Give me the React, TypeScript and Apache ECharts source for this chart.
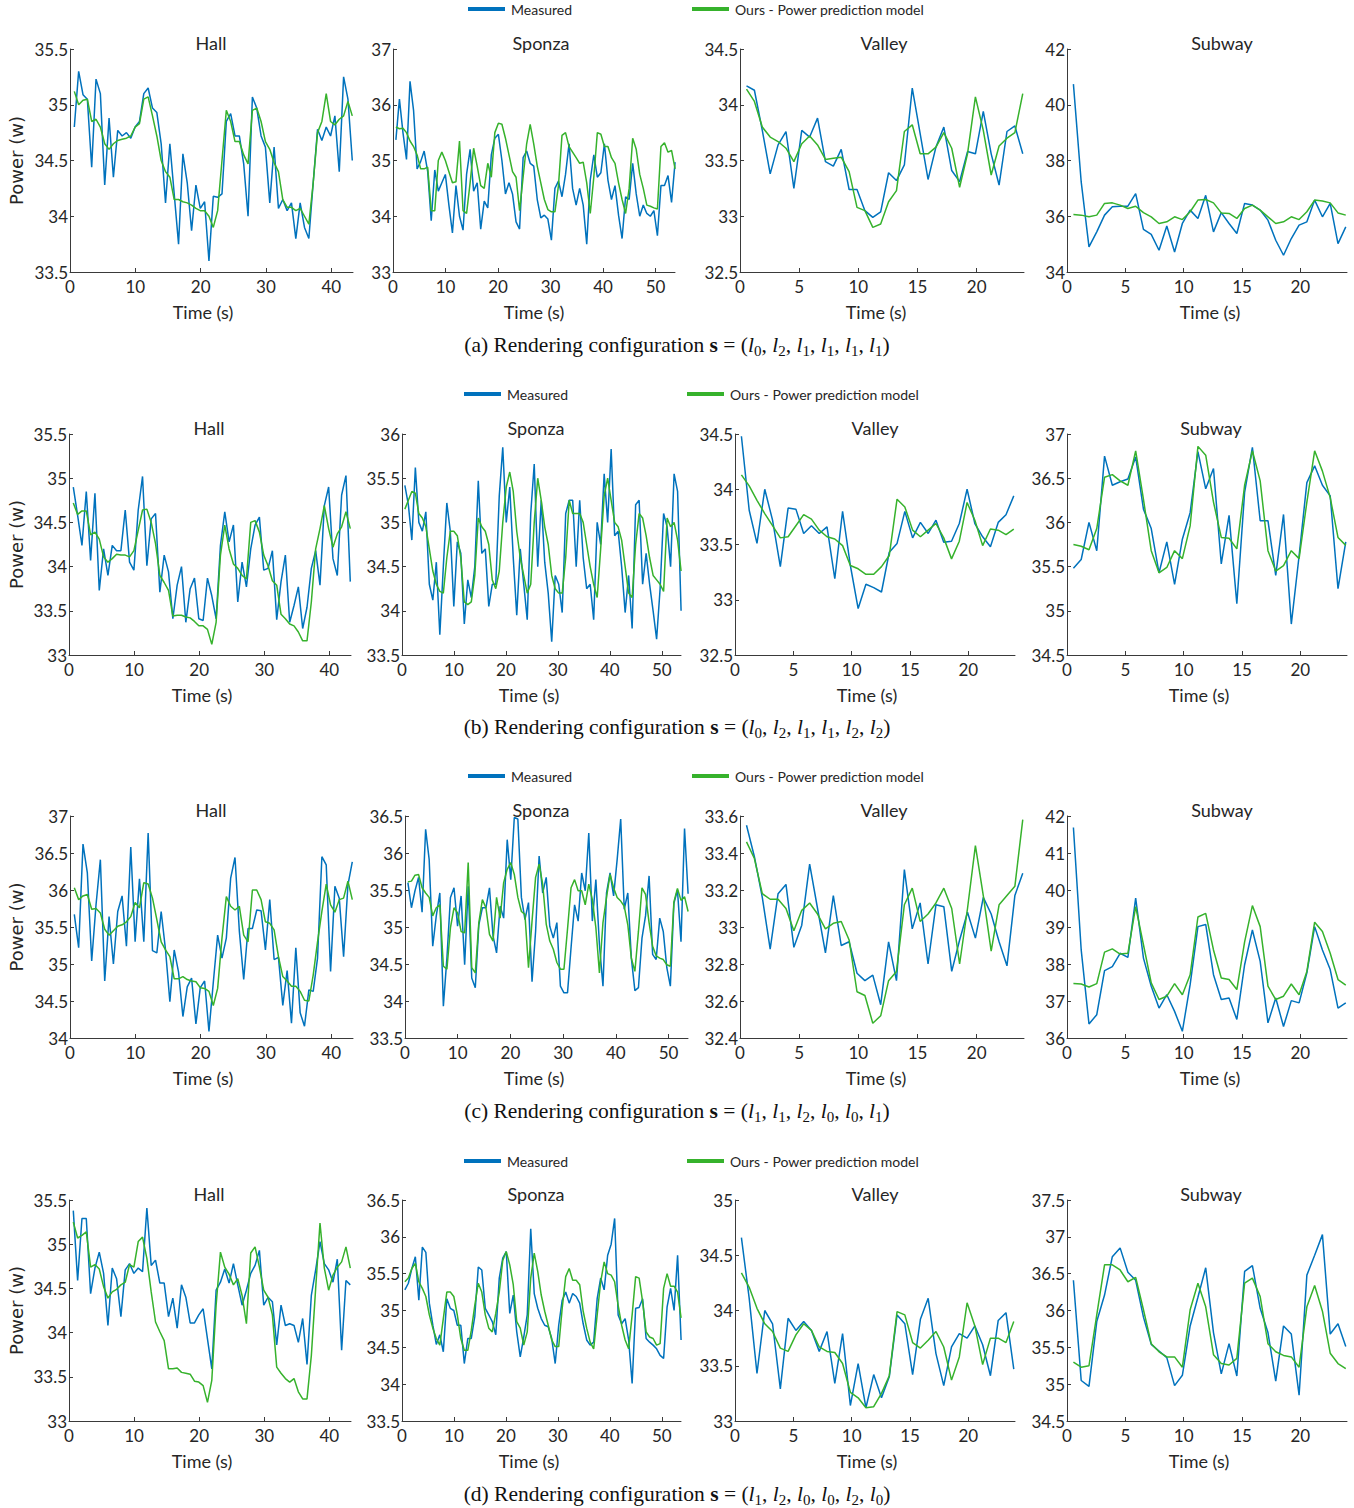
import React, { useEffect, useRef } from 'react';
import * as echarts from 'echarts';

// ---------- DATA ----------
const SCENES = ['Hall', 'Sponza', 'Valley', 'Subway'];
const ROW_LABELS = ['a', 'b', 'c', 'd'];
const CONFIGS = [
  [0, 2, 1, 1, 1, 1],
  [0, 2, 1, 1, 2, 2],
  [1, 1, 2, 0, 0, 1],
  [1, 2, 0, 0, 2, 0],
];
const SERIES_NAMES = ['Measured', 'Ours - Power prediction model'];
const SAMPLE_DT = [0.665, 0.673, 0.667, 0.667]; // seconds between samples, per scene
const FIRST_T = [0.66, 0.55, 0.55, 0.55];
const X_MAX = [43.33, 53.7, 24, 24];
const X_STEP = [10, 10, 5, 5];
const Y_MIN = [[33.5, 33, 32.5, 34], [33, 33.5, 32.5, 34.5], [34, 33.5, 32.4, 36], [33, 33.5, 33, 34.5]];
const Y_MAX = [[35.5, 37, 34.5, 42], [35.5, 36, 34.5, 37], [37, 36.5, 33.6, 42], [35.5, 36.5, 35, 37.5]];
const Y_STEP = [[0.5, 1, 0.5, 2], [0.5, 0.5, 0.5, 0.5], [0.5, 0.5, 0.2, 1], [0.5, 0.5, 0.5, 0.5]];

// (a)
const MEAS_A_HALL = [34.80,35.30,35.09,35.05,34.44,35.23,35.10,34.28,34.88,34.35,34.77,34.72,34.75,34.70,34.80,34.85,35.10,35.15,34.97,34.93,34.65,34.12,34.65,34.20,33.75,34.56,34.30,33.87,34.28,34.07,34.13,33.60,34.18,34.17,34.20,34.85,34.92,34.72,34.72,34.47,34.00,35.07,34.97,34.72,34.62,34.12,34.62,34.07,34.15,34.05,34.12,33.80,34.12,33.90,33.80,34.30,34.78,34.68,34.80,34.72,34.90,34.40,35.25,35.05,34.50];
const PRED_A_HALL = [35.12,35.00,35.04,35.05,34.85,34.87,34.80,34.65,34.60,34.65,34.68,34.69,34.70,34.72,34.80,34.83,35.05,35.07,34.90,34.72,34.50,34.40,34.35,34.15,34.15,34.13,34.12,34.10,34.07,34.05,34.05,34.00,33.90,34.05,34.50,34.95,34.85,34.67,34.67,34.55,34.47,34.95,34.97,34.85,34.67,34.60,34.48,34.40,34.15,34.08,34.08,34.05,34.07,34.00,33.93,34.30,34.75,34.85,35.10,34.85,34.82,34.87,34.90,35.03,34.90];
const MEAS_A_SPONZA = [35.37,36.10,35.50,35.02,36.42,35.90,34.85,34.98,35.17,34.80,33.92,34.83,34.45,34.60,34.75,34.20,33.70,34.55,34.00,33.75,34.75,35.20,34.45,34.60,33.77,34.27,34.15,35.10,35.40,35.47,35.00,34.40,34.60,34.40,33.90,33.77,35.05,35.17,34.95,34.90,34.30,33.97,34.02,33.95,33.57,34.50,34.63,34.35,34.75,35.30,34.50,34.20,34.50,34.20,33.50,34.65,35.10,34.70,34.78,35.30,34.65,34.30,34.55,34.02,33.60,34.35,34.30,34.95,34.40,34.00,34.20,34.05,34.00,34.10,33.65,34.55,34.55,34.73,34.25,34.97];
const PRED_A_SPONZA = [35.60,35.57,35.58,35.50,35.35,35.25,35.10,34.85,34.85,34.88,34.10,34.10,35.00,35.15,35.00,34.80,34.60,34.62,35.35,34.10,34.05,34.60,35.22,34.90,34.55,34.50,34.95,34.70,35.50,35.67,35.65,35.40,35.10,34.80,34.70,34.10,34.70,35.30,35.65,35.30,34.90,34.60,34.30,34.12,34.08,34.08,34.55,35.45,35.50,35.25,35.15,35.05,34.95,34.97,34.60,34.05,34.70,35.50,35.47,35.25,35.25,35.05,34.95,34.60,34.30,34.05,34.50,35.40,35.20,34.75,34.50,34.20,34.18,34.15,34.13,35.25,35.32,35.15,35.18,34.85];
const MEAS_A_VALLEY = [34.17,34.13,33.77,33.38,33.64,33.76,33.25,33.77,33.71,33.88,33.49,33.45,33.60,33.24,33.24,33.05,32.99,33.04,33.39,33.32,33.46,34.15,33.74,33.33,33.62,33.80,33.41,33.31,33.58,33.56,33.94,33.56,33.28,33.76,33.81,33.56];
const PRED_A_VALLEY = [34.14,34.03,33.80,33.71,33.67,33.61,33.49,33.65,33.72,33.64,33.51,33.52,33.53,33.40,33.08,33.05,32.90,32.93,33.13,33.23,33.76,33.82,33.56,33.56,33.62,33.75,33.61,33.26,33.56,34.07,33.77,33.37,33.63,33.70,33.75,34.10];
const MEAS_A_SUBWAY = [40.74,37.23,34.90,35.44,36.04,36.34,36.36,36.36,36.81,35.53,35.35,34.78,35.65,34.72,35.74,36.22,35.92,36.75,35.44,36.13,35.74,35.38,36.46,36.40,36.22,35.86,35.14,34.60,35.20,35.68,35.80,36.58,35.98,36.46,35.02,35.62];
const PRED_A_SUBWAY = [36.06,36.04,35.98,36.04,36.46,36.48,36.40,36.28,36.36,36.13,35.98,35.74,35.80,35.98,35.88,36.16,36.58,36.60,36.48,36.12,36.10,35.92,36.28,36.40,36.22,35.98,35.74,35.80,35.98,35.88,36.16,36.58,36.55,36.48,36.12,36.04];

// (b)
const MEAS_B_HALL = [34.90,34.58,34.24,34.85,34.07,34.83,33.73,34.20,33.90,34.24,34.18,34.18,34.64,34.05,33.96,34.64,35.02,34.01,34.54,34.60,33.71,34.13,33.94,33.41,33.79,34.00,33.37,33.75,33.87,33.41,33.39,33.87,33.67,33.41,34.24,34.62,34.28,34.47,33.60,34.05,33.77,34.20,34.47,34.56,33.96,33.98,34.18,33.40,33.83,34.13,33.37,33.56,33.77,33.30,33.54,33.98,34.18,33.79,34.69,34.90,34.09,33.90,34.81,35.03,33.83];
const PRED_B_HALL = [34.72,34.59,34.63,34.63,34.36,34.39,34.31,34.11,34.05,34.09,34.14,34.13,34.13,34.11,34.18,34.41,34.64,34.65,34.50,34.26,33.90,33.82,33.73,33.44,33.45,33.45,33.43,33.42,33.38,33.33,33.33,33.29,33.12,33.37,34.13,34.47,34.20,34.03,33.98,33.90,33.86,34.50,34.52,34.39,34.13,34.01,33.84,33.79,33.46,33.41,33.35,33.33,33.26,33.16,33.16,33.60,34.20,34.43,34.69,34.43,34.22,34.37,34.45,34.62,34.43];
const MEAS_B_SPONZA = [35.42,35.20,34.80,35.62,35.00,34.90,35.12,34.30,34.12,34.55,33.73,34.50,35.22,34.90,34.05,34.78,34.65,33.85,34.35,34.15,34.50,35.47,34.65,34.70,34.05,34.30,34.30,35.30,35.85,35.00,35.40,34.60,33.95,34.70,34.30,33.90,35.10,35.66,34.50,35.25,34.55,34.20,33.65,34.40,34.30,33.98,35.10,35.25,35.25,34.50,35.25,34.60,34.25,34.30,33.90,35.00,34.75,35.55,35.00,35.83,34.85,34.90,34.50,33.98,34.40,33.80,35.20,35.25,34.30,34.65,34.30,34.00,33.68,34.25,35.10,34.95,34.50,35.55,35.35,34.00];
const PRED_B_SPONZA = [35.15,35.25,35.35,35.33,35.10,35.05,34.95,34.70,34.45,34.30,34.22,34.20,34.60,34.90,34.90,34.85,34.60,34.10,34.07,34.10,34.40,35.05,34.95,34.90,34.75,34.35,34.25,34.45,35.00,35.40,35.57,35.35,34.90,34.60,34.40,34.20,34.30,35.00,35.50,35.25,34.95,34.75,34.40,34.25,34.20,34.20,34.60,35.25,35.10,35.10,35.10,35.00,34.75,34.50,34.30,34.15,34.70,35.30,35.50,35.25,35.00,34.95,34.80,34.50,34.20,34.15,34.75,35.10,35.05,34.85,34.60,34.40,34.35,34.30,34.22,35.05,34.95,35.00,34.80,34.45];
const MEAS_B_VALLEY = [34.48,33.81,33.51,34.00,33.72,33.30,33.83,33.82,33.60,33.67,33.60,33.66,33.19,33.80,33.31,32.92,33.14,33.11,33.07,33.43,33.51,33.80,33.56,33.70,33.60,33.72,33.52,33.53,33.69,34.00,33.69,33.57,33.48,33.70,33.77,33.94];
const PRED_B_VALLEY = [34.13,34.03,33.90,33.78,33.67,33.56,33.57,33.67,33.77,33.73,33.63,33.57,33.55,33.49,33.31,33.28,33.23,33.23,33.30,33.40,33.91,33.84,33.63,33.57,33.63,33.69,33.56,33.37,33.53,33.88,33.72,33.49,33.64,33.63,33.59,33.64];
const MEAS_B_SUBWAY = [35.48,35.58,36.00,35.68,36.75,36.42,36.46,36.49,36.74,36.15,35.93,35.43,35.78,35.30,35.81,36.11,36.80,36.38,36.61,35.53,36.08,35.08,36.34,36.85,36.02,36.02,35.40,36.09,34.85,35.62,36.45,36.64,36.42,36.30,35.25,35.78];
const PRED_B_SUBWAY = [35.75,35.73,35.69,35.93,36.51,36.54,36.47,36.42,36.81,36.26,35.68,35.43,35.49,35.68,35.59,35.96,36.86,36.76,36.23,35.83,35.82,35.70,36.42,36.81,36.47,35.68,35.45,35.51,35.68,35.59,36.23,36.81,36.58,36.28,35.83,35.74];

// (c)
const MEAS_C_HALL = [35.67,35.22,36.62,36.23,35.04,35.80,36.41,34.77,35.64,35.00,35.71,35.92,35.24,36.58,35.30,36.15,35.30,36.77,35.18,35.15,35.71,35.19,34.49,35.19,34.89,34.29,34.69,34.81,34.19,34.68,34.77,34.09,34.75,35.39,35.08,35.35,36.16,36.44,35.44,34.79,35.48,35.48,35.73,35.72,35.19,35.87,35.06,35.09,34.44,34.91,34.20,35.22,34.34,34.16,34.65,34.63,35.08,36.45,36.34,34.90,36.05,35.89,35.10,36.07,36.38];
const PRED_C_HALL = [36.03,35.87,35.92,35.94,35.74,35.75,35.69,35.47,35.39,35.45,35.51,35.53,35.57,35.64,35.83,35.76,36.10,36.08,35.89,35.60,35.30,35.19,35.10,34.80,34.80,34.83,34.79,34.77,34.76,34.68,34.67,34.63,34.44,34.67,35.35,35.91,35.78,35.73,35.78,35.39,35.30,36.00,36.00,35.87,35.57,35.55,35.46,35.10,34.83,34.77,34.70,34.70,34.63,34.51,34.50,34.85,35.30,35.71,36.08,35.80,35.70,35.87,35.89,36.12,35.87];
const MEAS_C_SPONZA = [35.60,35.26,35.49,35.67,35.20,36.32,35.91,34.74,35.15,35.46,33.93,34.58,35.40,35.53,35.01,35.42,34.49,35.55,34.31,34.18,35.03,35.26,35.26,35.53,34.88,34.65,35.28,35.12,36.18,35.64,36.48,36.46,35.40,35.10,35.33,34.26,34.94,35.96,35.46,35.67,35.01,34.85,35.06,34.20,34.11,34.11,34.72,35.30,35.08,35.73,35.49,36.27,35.08,35.64,34.76,34.20,35.46,35.73,35.42,35.91,36.46,35.24,35.46,34.58,34.14,34.18,34.85,35.15,35.69,34.63,34.56,35.12,34.94,34.45,34.20,35.32,35.50,34.80,36.33,35.45];
const PRED_C_SPONZA = [35.61,35.62,35.70,35.71,35.53,35.46,35.40,35.15,35.26,35.30,34.47,34.43,34.99,35.26,35.19,34.94,34.92,35.87,34.45,34.38,35.06,35.37,35.26,34.90,34.81,35.40,35.12,35.60,35.78,35.87,35.71,35.40,35.21,35.17,34.45,35.08,35.67,35.85,35.58,35.04,34.81,34.70,34.52,34.43,34.43,34.97,35.53,35.64,35.49,35.49,35.30,35.58,35.37,34.99,34.38,35.06,35.40,35.71,35.53,35.40,35.35,35.28,35.03,34.58,34.40,34.94,35.53,35.44,35.06,34.74,34.61,34.58,34.56,34.49,34.47,35.34,35.52,35.36,35.41,35.21];
const MEAS_C_VALLEY = [33.55,33.38,33.16,32.88,33.18,33.23,32.89,33.01,33.34,33.10,32.86,33.17,32.90,32.92,32.75,32.71,32.74,32.58,32.92,32.71,33.31,32.99,33.13,32.80,33.12,33.11,32.76,32.93,33.08,32.94,33.16,33.07,32.92,32.79,33.17,33.29];
const PRED_C_VALLEY = [33.46,33.37,33.18,33.15,33.15,33.10,32.98,33.09,33.13,33.07,32.99,33.02,33.03,32.93,32.65,32.63,32.48,32.52,32.71,32.76,33.12,33.21,33.03,33.07,33.13,33.21,33.10,32.80,33.10,33.44,33.17,32.87,33.12,33.17,33.22,33.58];
const MEAS_C_SUBWAY = [41.69,38.38,36.38,36.63,37.82,37.93,38.29,38.18,39.78,38.16,37.40,36.81,37.17,36.72,36.18,37.44,39.01,39.07,37.71,37.04,37.08,36.50,37.98,38.92,38.07,36.41,37.08,36.31,37.01,36.95,37.76,39.01,38.38,37.85,36.81,36.95];
const PRED_C_SUBWAY = [37.47,37.46,37.38,37.47,38.32,38.41,38.27,38.29,39.55,38.52,37.49,37.04,37.13,37.47,37.17,37.71,39.27,39.37,38.38,37.62,37.58,37.31,38.60,39.58,39.01,37.40,37.04,37.13,37.46,37.17,37.80,39.13,38.88,38.29,37.58,37.43];

// (d)
const MEAS_D_HALL = [35.38,34.59,35.29,35.29,34.44,34.73,34.91,34.67,34.08,34.73,34.61,34.18,34.71,34.78,34.67,34.73,34.69,35.41,34.76,34.82,34.56,34.56,34.18,34.39,34.05,34.54,34.40,34.11,34.11,34.20,34.27,33.93,33.59,34.48,34.57,34.72,34.56,34.78,34.54,34.31,34.48,34.67,34.76,34.93,34.31,34.40,34.35,33.86,34.31,34.08,34.10,34.08,33.89,34.16,33.64,34.42,34.71,35.03,34.78,34.71,34.57,34.83,33.80,34.59,34.54];
const PRED_D_HALL = [35.25,35.07,35.10,35.14,34.74,34.77,34.72,34.52,34.39,34.46,34.49,34.54,34.57,34.77,34.74,35.03,35.08,34.84,34.46,34.12,34.01,33.91,33.59,33.59,33.60,33.55,33.54,33.53,33.45,33.44,33.40,33.21,33.46,34.31,34.91,34.74,34.66,34.54,34.61,34.42,34.10,34.90,34.97,34.74,34.48,34.40,34.20,33.61,33.54,33.48,33.44,33.48,33.33,33.25,33.25,33.74,34.50,35.24,34.73,34.48,34.65,34.74,34.80,34.97,34.73];
const MEAS_D_SPONZA = [35.28,35.37,35.57,35.73,35.14,35.86,35.79,35.10,34.80,34.54,34.67,34.44,35.16,35.03,35.00,34.80,34.80,34.28,34.62,34.62,34.92,35.59,35.55,35.03,34.94,34.85,34.67,35.44,35.71,35.80,34.96,35.21,34.71,34.37,34.64,34.94,36.11,35.23,35.03,34.89,34.80,34.78,34.62,34.28,34.80,35.14,35.25,35.10,35.23,35.19,35.10,34.82,34.60,34.53,34.57,35.16,35.44,35.28,35.75,35.90,36.25,34.94,34.82,34.89,34.60,34.01,35.03,35.04,35.16,34.62,34.57,34.53,34.48,34.39,34.35,35.05,35.30,35.00,35.75,34.60];
const PRED_D_SPONZA = [35.39,35.44,35.57,35.64,35.39,35.30,35.19,34.94,34.76,34.62,34.53,34.89,35.25,35.25,35.19,34.94,34.62,34.46,34.46,34.73,35.07,35.37,35.25,34.94,34.76,34.71,34.96,35.25,35.68,35.80,35.62,35.35,34.85,34.76,34.53,34.71,35.44,35.78,35.53,35.21,34.99,34.80,34.60,34.51,34.51,35.03,35.46,35.57,35.41,35.41,35.35,34.99,34.76,34.57,34.48,34.94,35.39,35.66,35.50,35.48,35.39,35.07,34.80,34.60,34.48,34.94,35.46,35.44,35.12,34.71,34.64,34.62,34.53,34.55,35.30,35.50,35.33,35.33,35.25,34.90];
const MEAS_D_VALLEY = [34.66,34.11,33.43,34.00,33.88,33.29,33.93,33.82,33.90,33.82,33.63,33.81,33.34,33.79,33.14,33.52,33.12,33.42,33.21,33.40,33.96,33.88,33.42,33.92,34.11,33.61,33.32,33.67,33.79,33.75,33.86,33.69,33.41,33.91,33.98,33.47];
const PRED_D_VALLEY = [34.34,34.21,34.02,33.88,33.81,33.66,33.63,33.78,33.88,33.82,33.67,33.63,33.62,33.52,33.26,33.21,33.12,33.13,33.25,33.41,33.99,33.96,33.71,33.66,33.73,33.81,33.67,33.37,33.58,34.07,33.86,33.51,33.75,33.75,33.71,33.90];
const MEAS_D_SUBWAY = [36.41,35.05,34.97,35.85,36.21,36.73,36.85,36.52,36.41,35.91,35.54,35.45,35.36,34.98,35.12,35.79,36.18,36.58,35.70,35.14,35.55,35.11,36.53,36.61,36.03,35.70,35.04,35.79,35.68,34.85,36.48,36.75,37.03,35.68,35.82,35.51];
const PRED_D_SUBWAY = [35.30,35.23,35.25,35.94,36.62,36.62,36.55,36.39,36.45,36.01,35.55,35.44,35.37,35.37,35.23,36.01,36.37,36.05,35.40,35.28,35.26,35.35,36.37,36.44,36.19,35.55,35.44,35.39,35.37,35.23,36.05,36.34,35.99,35.42,35.28,35.21];

const MEASURED = [
  [MEAS_A_HALL, MEAS_A_SPONZA, MEAS_A_VALLEY, MEAS_A_SUBWAY],
  [MEAS_B_HALL, MEAS_B_SPONZA, MEAS_B_VALLEY, MEAS_B_SUBWAY],
  [MEAS_C_HALL, MEAS_C_SPONZA, MEAS_C_VALLEY, MEAS_C_SUBWAY],
  [MEAS_D_HALL, MEAS_D_SPONZA, MEAS_D_VALLEY, MEAS_D_SUBWAY],
];
const PREDICTED = [
  [PRED_A_HALL, PRED_A_SPONZA, PRED_A_VALLEY, PRED_A_SUBWAY],
  [PRED_B_HALL, PRED_B_SPONZA, PRED_B_VALLEY, PRED_B_SUBWAY],
  [PRED_C_HALL, PRED_C_SPONZA, PRED_C_VALLEY, PRED_C_SUBWAY],
  [PRED_D_HALL, PRED_D_SPONZA, PRED_D_VALLEY, PRED_D_SUBWAY],
];

// ---------- LAYOUT ----------
const GRID_TOP = [49, 434, 816, 1200];
const GRID_H = [223, 221, 222, 221];
const GRID_LEFT = [[70, 393, 740, 1067], [69, 402, 735, 1067], [70, 405, 740, 1067], [69, 402, 735, 1067]];
const GRID_RIGHT = [[353, 675, 1024, 1347], [351, 681, 1015, 1347], [353, 688, 1024, 1347], [351, 681, 1015, 1347]];
const TITLE_X = [[211, 541, 884, 1222], [209, 536, 875, 1211], [211, 541, 884, 1222], [209, 536, 875, 1211]];
const XNAME_X = [[203, 534, 876, 1210], [202, 529, 867, 1199], [203, 534, 876, 1210], [202, 529, 867, 1199]];
const LEGEND_X = [[468, 692], [464, 687], [468, 692], [464, 687]];
const LEGEND_Y = [10, 395, 777, 1162];
const CAPTION_Y = [345, 727, 1111, 1494];

const BLUE = '#0072BD';
const GREEN = '#36B22C';
const AXIS_COLOR = '#3a3a3a';
const TEXT_COLOR = '#262626';
const SANS = 'Lato, "Open Sans", "DejaVu Sans", sans-serif';
const WIDE_SANS = '"DejaVu Sans", Lato, sans-serif';
const SERIF = '"Liberation Serif", "DejaVu Serif", serif';

function buildOption() {
  const grid: any[] = [];
  const xAxis: any[] = [];
  const yAxis: any[] = [];
  const series: any[] = [];
  const graphic: any[] = [];
  const legend: any[] = [];

  for (let r = 0; r < 4; r++) {
    for (let c = 0; c < 4; c++) {
      const idx = r * 4 + c;
      grid.push({
        left: GRID_LEFT[r][c],
        top: GRID_TOP[r],
        width: GRID_RIGHT[r][c] - GRID_LEFT[r][c],
        height: GRID_H[r],
        containLabel: false,
        outerBoundsMode: 'none',
      });
      const xTicks: number[] = [];
      for (let v = 0; v <= X_MAX[c] + 1e-9; v += X_STEP[c]) xTicks.push(v);
      xAxis.push({
        type: 'value',
        gridIndex: idx,
        min: 0,
        max: X_MAX[c],
        interval: X_STEP[c],
        axisLine: { show: true, lineStyle: { color: AXIS_COLOR, width: 1 } },
        axisTick: { show: true, inside: true, length: 4, lineStyle: { color: AXIS_COLOR }, customValues: xTicks },
        axisLabel: {
          show: true,
          customValues: xTicks,
          margin: 6,
          fontSize: 17,
          fontFamily: SANS,
          color: TEXT_COLOR,
        },
        splitLine: { show: false },
      });
      yAxis.push({
        type: 'value',
        gridIndex: idx,
        min: Y_MIN[r][c],
        max: Y_MAX[r][c],
        interval: Y_STEP[r][c],
        axisLine: { show: true, lineStyle: { color: AXIS_COLOR, width: 1 } },
        axisTick: { show: true, inside: true, length: 4, lineStyle: { color: AXIS_COLOR } },
        axisLabel: {
          show: true,
          margin: 2,
          fontSize: 17,
          fontFamily: SANS,
          color: TEXT_COLOR,
          formatter: (v: number) => String(Math.round(v * 100) / 100),
        },
        splitLine: { show: false },
      });
      const toPts = (arr: number[]) =>
        arr.map((v, i) => [Math.round((FIRST_T[c] + i * SAMPLE_DT[c]) * 1000) / 1000, v]);
      series.push({
        name: SERIES_NAMES[0],
        type: 'line',
        xAxisIndex: idx,
        yAxisIndex: idx,
        data: toPts(MEASURED[r][c]),
        showSymbol: false,
        symbol: 'none',
        lineStyle: { color: BLUE, width: 1.5 },
        itemStyle: { color: BLUE },
        z: 2,
      });
      series.push({
        name: SERIES_NAMES[1],
        type: 'line',
        xAxisIndex: idx,
        yAxisIndex: idx,
        data: toPts(PREDICTED[r][c]),
        showSymbol: false,
        symbol: 'none',
        lineStyle: { color: GREEN, width: 1.5 },
        itemStyle: { color: GREEN },
        z: 3,
      });
      graphic.push({
        type: 'text',
        x: TITLE_X[r][c],
        y: GRID_TOP[r] - 6,
        style: { text: SCENES[c], fontSize: 18, fontFamily: SANS, fill: TEXT_COLOR, align: 'center', verticalAlign: 'middle' },
      });
      graphic.push({
        type: 'text',
        x: XNAME_X[r][c],
        y: GRID_TOP[r] + GRID_H[r] + 40,
        style: { text: 'Time (s)', fontSize: 18, fontFamily: SANS, fill: TEXT_COLOR, align: 'center', verticalAlign: 'middle' },
      });
    }
    graphic.push({
      type: 'text',
      x: 16,
      y: GRID_TOP[r] + GRID_H[r] / 2,
      rotation: Math.PI / 2,
      style: { text: 'Power (w)', fontSize: 18, fontFamily: WIDE_SANS, fill: TEXT_COLOR, align: 'center', verticalAlign: 'middle' },
    });
    const cfg = CONFIGS[r].map((n) => `{i|l}{s|${n}}`).join('{n|, }');
    graphic.push({
      type: 'text',
      x: 677,
      y: CAPTION_Y[r],
      style: {
        text: `{n|(${ROW_LABELS[r]}) Rendering configuration }{b|s}{n| = (}${cfg}{n|)}`,
        fontSize: 21.5,
        fontFamily: SERIF,
        fill: '#111',
        align: 'center',
        verticalAlign: 'middle',
        lineHeight: 26,
        rich: {
          n: { fontSize: 21.5, fontFamily: SERIF, fill: '#111', lineHeight: 26, verticalAlign: 'middle' },
          b: { fontSize: 21.5, fontFamily: SERIF, fontWeight: 'bold', fill: '#111', lineHeight: 26, verticalAlign: 'middle' },
          i: { fontSize: 21.5, fontFamily: SERIF, fontStyle: 'italic', fill: '#111', lineHeight: 26, verticalAlign: 'middle' },
          s: { fontSize: 15, fontFamily: SERIF, fill: '#111', lineHeight: 15, verticalAlign: 'bottom' },
        },
      },
    });
    for (let k = 0; k < 2; k++) {
      legend.push({
        left: LEGEND_X[r][k],
        top: LEGEND_Y[r] - 8,
        padding: 0,
        data: [SERIES_NAMES[k]],
        icon: 'rect',
        itemWidth: 37,
        itemHeight: 4,
        textStyle: { fontSize: 14, fontFamily: SANS, color: TEXT_COLOR, padding: [0, 0, 0, 1] },
        selectedMode: false,
      });
    }
  }

  return {
    animation: false,
    backgroundColor: '#ffffff',
    grid,
    xAxis,
    yAxis,
    series,
    legend,
    graphic,
  };
}

export default function App() {
  const ref = useRef<HTMLDivElement>(null);
  useEffect(() => {
    if (!ref.current) return;
    const chart = echarts.init(ref.current, null, { renderer: 'svg' });
    chart.setOption(buildOption());
    return () => chart.dispose();
  }, []);
  return (
    <div
      ref={ref}
      style={{ position: 'absolute', left: 0, top: 0, width: 1354, height: 1508, background: '#fff' }}
    />
  );
}
